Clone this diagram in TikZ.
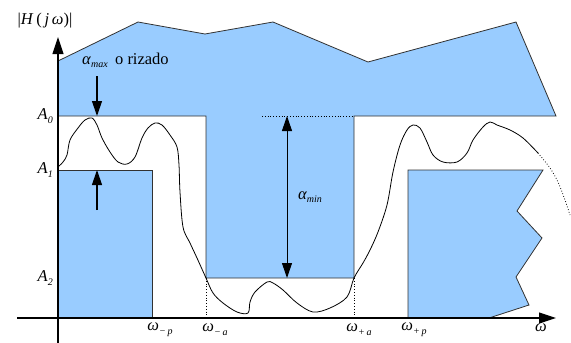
\documentclass[tikz,border=0pt]{standalone}
\usepackage{fontspec}
\setmainfont{Liberation Serif}
\usetikzlibrary{arrows.meta}
\definecolor{fillblue}{RGB}{153,204,255}
\definecolor{edgegray}{RGB}{50,50,50}
\newcommand{\sbs}[1]{\raisebox{-0.5ex}{\fontsize{10}{10}\selectfont\itshape #1}}
\begin{document}
\begin{tikzpicture}[x=1pt,y=-1pt,font=\fontsize{16.5}{18}\selectfont,
  band/.style={fill=fillblue,draw=edgegray,line width=0.8pt,line join=miter},
  axisline/.style={line width=1.2pt,-{Triangle[length=17pt,width=11pt]}},
  bigarrow/.style={line width=1.2pt,-{Triangle[length=15pt,width=10pt]}},
  dblarrow/.style={line width=1pt,{Triangle[length=15pt,width=10pt]}-{Triangle[length=15pt,width=10pt]}},
  resp/.style={line width=0.8pt},
  dots/.style={dotted,line width=0.8pt},
  lbl/.style={inner sep=0pt}]
\useasboundingbox (0,0) rectangle (571,343);
% stop band (upper)
\draw[band] (58,61) -- (138,22) -- (205,34) -- (273,22) -- (368,62) -- (516,22) -- (556,116)
  -- (354,116) -- (354,278) -- (206,278) -- (206,116) -- (58,116) -- cycle;
% pass bands
\draw[band] (58,170) rectangle (152,318);
\draw[band] (408,318) -- (408,170) -- (543,170) -- (517,211) -- (542,238) -- (516,277)
  -- (529,305) -- (489,318) -- cycle;
% dotted guides
\draw[dots] (262,116) -- (354,116);
\draw[dots] (206,278) -- (206,318);
\draw[dots] (354,278) -- (354,318);
% response curve
\draw[resp] plot[smooth,tension=0.55] coordinates {
 (58,167) (63,162) (67,155) (70,140) (78,128) (85,120) (92,118) (97,125) (102,138)
 (110,152) (118,162) (127,164) (135,157) (142,138) (148,128) (155,123) (162,125)
 (170,135) (177,147) (179,165) (180,192) (183,227) (190,243) (197,258) (206,278)
 (213,293) (223,303) (237,312) (248,313) (250,302) (255,292) (267,282) (273,283)
 (283,290) (297,303) (313,312) (330,308) (347,297) (354,278) (363,263) (370,250)
 (378,232) (387,205) (393,172) (400,145) (407,130) (413,125) (420,128) (427,142)
 (433,155) (443,162) (457,162) (467,153) (473,140) (483,127) (490,122) (497,125)
 (510,130) (523,138) (538,153)};
\draw[dots] plot[smooth,tension=0.55] coordinates {(538,153) (550,168) (558,182) (565,200) (570,215)};
% ripple and attenuation arrows
\coordinate (amaxfrom) at (97,76);
\coordinate (amaxto) at (97,116);
\coordinate (aonefrom) at (97,210);
\coordinate (aoneto) at (97,170);
\coordinate (amintop) at (287,116);
\coordinate (aminbot) at (287,278);
\draw[bigarrow] (amaxfrom) -- (amaxto);
\draw[bigarrow] (aonefrom) -- (aoneto);
\draw[dblarrow] (amintop) -- (aminbot);
% axes
\coordinate (yfrom) at (58,343);
\coordinate (yto) at (58,37);
\coordinate (xfrom) at (17,318);
\coordinate (xto) at (556,318);
\draw[axisline] (yfrom) -- (yto);
\draw[axisline] (xfrom) -- (xto);
% labels
\node[lbl] (hj) at (45,21) {|\textit{H}\,(\,\textit{j\,ω})|};
\node[lbl,anchor=base west] (amax) at (82,64) {\textit{α}\sbs{max}\;\,o rizado};
\node[lbl,anchor=east] (a0) at (53,116) {\textit{A}\sbs{0}};
\node[lbl,anchor=east] (a1) at (53,170) {\textit{A}\sbs{1}};
\node[lbl,anchor=east] (a2) at (53,278) {\textit{A}\sbs{2}};
\node[lbl] (amin) at (310,197) {\textit{α}\sbs{min}};
\node[lbl] (wmp) at (160,330) {\textit{ω}\sbs{−\,p}};
\node[lbl] (wma) at (215,330) {\textit{ω}\sbs{−\,a}};
\node[lbl] (wpa) at (359,330) {\textit{ω}\sbs{+\,a}};
\node[lbl] (wpp) at (414,330) {\textit{ω}\sbs{+\,p}};
\node[lbl] (w) at (541,328) {\textit{ω}};
\end{tikzpicture}
\end{document}
